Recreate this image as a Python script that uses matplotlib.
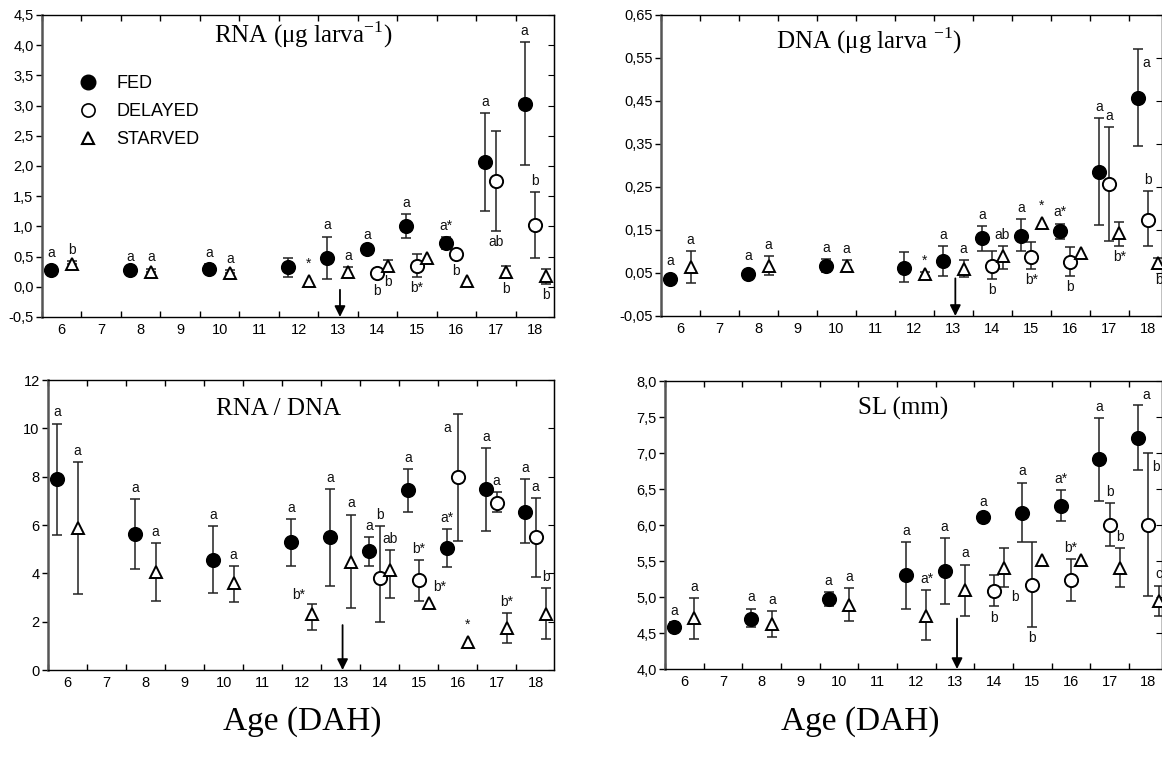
import numpy as np
import matplotlib.pyplot as plt
from matplotlib.lines import Line2D
from matplotlib.ticker import FixedLocator, FuncFormatter, NullFormatter

plt.rcParams['font.family'] = ['Liberation Sans', 'DejaVu Sans']
plt.rcParams['mathtext.fontset'] = 'custom'
plt.rcParams['mathtext.rm'] = 'Liberation Serif'

# age in days after hatching
days = list(range(6, 19))
fed_days = [6, 8, 10, 12, 13, 14, 15, 16, 17, 18]
del_days = [14, 15, 16, 17, 18]
sta_days = [6, 8, 10, 12, 13, 14, 15, 16, 17, 18]
arrow_day = 13

# RNA (ug larva-1): mean, lower / upper end of error bar, letters
rna_fed = [0.27, 0.27, 0.30, 0.33, 0.48, 0.63, 1.00, 0.73, 2.06, 3.02]
rna_fed_lo = [0.27, 0.24, 0.24, 0.17, 0.13, 0.59, 0.80, 0.62, 1.25, 2.01]
rna_fed_hi = [0.27, 0.30, 0.37, 0.48, 0.83, 0.67, 1.20, 0.82, 2.87, 4.05]
rna_fed_txt = ['a', 'a', 'a', '', 'a', 'a', 'a', 'a*', 'a', 'a']
rna_del = [0.23, 0.35, 0.55, 1.75, 1.03]
rna_del_lo = [0.23, 0.17, 0.55, 0.93, 0.48]
rna_del_hi = [0.23, 0.55, 0.55, 2.58, 1.57]
rna_del_txt = ['b', 'b*', 'b', 'ab', 'b']
rna_sta = [0.37, 0.25, 0.23, 0.10, 0.25, 0.35, 0.48, 0.10, 0.24, 0.18]
rna_sta_lo = [0.37, 0.25, 0.23, 0.10, 0.20, 0.27, 0.48, 0.10, 0.15, 0.05]
rna_sta_hi = [0.42, 0.30, 0.28, 0.10, 0.33, 0.45, 0.48, 0.10, 0.35, 0.30]
rna_sta_txt = ['b', 'a', 'a', '*', 'a', 'b', '', '', 'b', 'b']

# DNA (ug larva-1)
dna_fed = [0.036, 0.048, 0.067, 0.062, 0.078, 0.132, 0.137, 0.148, 0.285, 0.457]
dna_fed_lo = [0.036, 0.048, 0.053, 0.029, 0.043, 0.100, 0.100, 0.128, 0.161, 0.345]
dna_fed_hi = [0.036, 0.048, 0.083, 0.099, 0.113, 0.160, 0.175, 0.165, 0.410, 0.570]
dna_fed_txt = ['a', 'a', 'a', '', 'a', 'a', 'a', 'a*', 'a', 'a']
dna_del = [0.067, 0.088, 0.075, 0.257, 0.173]
dna_del_lo = [0.036, 0.060, 0.043, 0.125, 0.113]
dna_del_hi = [0.100, 0.122, 0.110, 0.390, 0.240]
dna_del_txt = ['b', 'b*', 'b', 'a', 'b']
dna_sta = [0.064, 0.067, 0.067, 0.048, 0.059, 0.090, 0.167, 0.096, 0.143, 0.073]
dna_sta_lo = [0.027, 0.045, 0.058, 0.043, 0.041, 0.060, 0.167, 0.096, 0.113, 0.060]
dna_sta_hi = [0.100, 0.090, 0.080, 0.053, 0.080, 0.113, 0.167, 0.096, 0.169, 0.085]
dna_sta_txt = ['a', 'a', 'a', '*', 'a', 'ab', '*', '', 'b*', 'b']

# RNA / DNA
rd_fed = [7.90, 5.62, 4.55, 5.29, 5.49, 4.93, 7.44, 5.04, 7.48, 6.53]
rd_fed_lo = [5.60, 4.17, 3.17, 4.30, 3.47, 4.30, 6.53, 4.26, 5.74, 5.25]
rd_fed_hi = [10.2, 7.07, 5.95, 6.24, 7.48, 5.50, 8.30, 5.83, 9.17, 7.90]
rd_fed_txt = ['a', 'a', 'a', 'a', 'a', 'a', 'a', 'a*', 'a', 'a']
rd_del = [3.79, 3.72, 7.97, 6.90, 5.49]
rd_del_lo = [1.98, 2.85, 5.33, 6.53, 3.85]
rd_del_hi = [5.95, 4.55, 10.6, 7.35, 7.10]
rd_del_txt = ['b', 'b*', 'a', 'a', 'a']
rd_sta = [5.87, 4.05, 3.60, 2.31, 4.47, 4.14, 2.77, 1.16, 1.73, 2.30]
rd_sta_lo = [3.15, 2.85, 2.80, 1.65, 2.55, 2.98, 2.77, 1.16, 1.12, 1.28]
rd_sta_hi = [8.60, 5.25, 4.30, 2.72, 6.43, 4.96, 2.77, 1.16, 2.35, 3.38]
rd_sta_txt = ['a', 'a', 'a', 'b*', 'a', 'ab', 'b*', '*', 'b*', 'b']

# SL (mm)
sl_fed = [4.59, 4.70, 4.97, 5.30, 5.36, 6.11, 6.17, 6.27, 6.91, 7.21]
sl_fed_lo = [4.54, 4.58, 4.88, 4.84, 4.90, 6.06, 5.76, 6.06, 6.33, 6.76]
sl_fed_hi = [4.65, 4.84, 5.07, 5.76, 5.82, 6.16, 6.59, 6.48, 7.49, 7.67]
sl_fed_txt = ['a', 'a', 'a', 'a', 'a', 'a', 'a', 'a*', 'a', 'a']
sl_del = [5.09, 5.17, 5.24, 6.00, 6.00]
sl_del_lo = [4.87, 4.58, 4.95, 5.71, 5.01]
sl_del_hi = [5.30, 5.76, 5.53, 6.31, 7.00]
sl_del_txt = ['b', 'b', 'b*', 'b', 'b']
sl_sta = [4.71, 4.63, 4.89, 4.74, 5.10, 5.41, 5.51, 5.51, 5.41, 4.95]
sl_sta_lo = [4.42, 4.45, 4.67, 4.40, 4.74, 5.14, 5.51, 5.51, 5.14, 4.74]
sl_sta_hi = [4.99, 4.81, 5.12, 5.10, 5.45, 5.68, 5.51, 5.51, 5.68, 5.16]
sl_sta_txt = ['a', 'a', 'a', 'a*', 'a', 'b', '', '', 'b', 'c']

# where each letter goes relative to its error bar
rna_pos = (['above'] * 10,
           ['below', 'below', 'below', 'below', 'above'],
           ['above'] * 5 + ['below', 'above', 'above', 'below', 'below'])
dna_pos = (['above'] * 9 + ['right-low'],
           ['below', 'below', 'below', 'above', 'above'],
           ['above'] * 8 + ['below', 'below'])
rd_pos = (['above'] * 10,
          ['above', 'above', 'left-low', 'above', 'above'],
          ['above', 'above', 'above', 'left', 'above', 'above', 'right', 'above', 'above', 'above'])
sl_pos = (['above'] * 9 + ['right'],
          ['below', 'below', 'above', 'above', 'right-low'],
          ['above'] * 5 + ['below-right', 'above', 'above', 'above', 'above'])

styles = [dict(dx=-0.27, marker='o', ms=9.5, mfc='black'),
          dict(dx=0.0, marker='o', ms=9.5, mfc='white'),
          dict(dx=0.26, marker='^', ms=8.5, mfc='white')]

place = {
    'above': ('hi', 0, 3, 'center', 'bottom'),
    'below': ('lo', 0, -3, 'center', 'top'),
    'right': ('hi', 3, 2, 'left', 'bottom'),
    'right-low': ('hi', 3, -5, 'left', 'top'),
    'left': ('hi', -5, 2, 'right', 'bottom'),
    'left-low': ('hi', -5, -5, 'right', 'top'),
    'below-right': ('lo', 5, -2, 'left', 'top'),
}


def draw_panel(ax, series, positions, ylim, yticks, ndec, title, title_xy,
               arrow_frac, xmax):
    for (dd, m, lo, hi, txt), pos, st in zip(series, positions, styles):
        x = np.array(dd) + st['dx']
        m, lo, hi = np.array(m), np.array(lo), np.array(hi)
        has = hi > lo
        ax.errorbar(x[has], m[has], yerr=[m[has] - lo[has], hi[has] - m[has]],
                    fmt='none', ecolor='#222222', elinewidth=1.1,
                    capsize=3.6, capthick=1.1, zorder=2)
        ax.plot(x, m, st['marker'], ms=st['ms'], mfc=st['mfc'], mec='black',
                mew=1.4, zorder=3, clip_on=False)
        r = st['ms'] / 2
        for xi, mi, l, h, t, p in zip(x, m, lo, hi, txt, pos):
            if not t:
                continue
            anc, dx, dy, ha, va = place[p]
            yv = h if anc == 'hi' else l
            if h - l == 0 or (anc == 'hi' and h == mi) or (anc == 'lo' and l == mi):
                dy = dy + (r if dy > 0 else -r)
            ax.annotate(t, xy=(xi, yv), xytext=(dx, dy), textcoords='offset points',
                        ha=ha, va=va, fontsize=10, color='#111111')

    ax.set_xlim(5.5, xmax)
    ax.set_ylim(*ylim)
    ax.xaxis.set_major_locator(FixedLocator(np.arange(5.5, 18.6, 1.0)))
    ax.xaxis.set_major_formatter(NullFormatter())
    ax.xaxis.set_minor_locator(FixedLocator(days))
    ax.xaxis.set_minor_formatter(FuncFormatter(lambda v, p: '%d' % v))
    ax.tick_params(axis='x', which='major', direction='in', top=True,
                   bottom=True, length=4, width=1)
    ax.tick_params(axis='x', which='minor', length=0, pad=4, labelsize=10.5)
    ax.set_yticks(yticks)
    ax.yaxis.set_major_formatter(
        FuncFormatter(lambda v, p: ('%.*f' % (ndec, v)).replace('.', ',')))
    ax.tick_params(axis='y', direction='out', length=4, width=1,
                   labelsize=10.5, pad=2)
    sec = ax.secondary_yaxis('right')
    sec.set_yticks(yticks)
    sec.tick_params(direction='in', length=4, labelright=False)
    for s in ['top', 'right', 'bottom']:
        ax.spines[s].set_linewidth(1.0)
    ax.spines['left'].set_linewidth(1.8)
    ax.spines['left'].set_color('#555555')
    ax.text(title_xy[0], title_xy[1], title, transform=ax.transAxes,
            ha='center', va='center', fontsize=18, family='Liberation Serif')
    ax.annotate('', xy=(arrow_day + 0.05, 0.0), xytext=(arrow_day + 0.05, arrow_frac),
                xycoords=ax.get_xaxis_transform(),
                arrowprops=dict(arrowstyle='-|>', color='black', lw=1.3,
                                mutation_scale=16, shrinkA=0, shrinkB=0))


fig = plt.figure(figsize=(11.62, 7.64), dpi=100)
ax_rna = fig.add_axes([0.0361, 0.5851, 0.4406, 0.3953])
ax_dna = fig.add_axes([0.5688, 0.5864, 0.4312, 0.3940])
ax_rd = fig.add_axes([0.0413, 0.1230, 0.4355, 0.3796])
ax_sl = fig.add_axes([0.5723, 0.1243, 0.4277, 0.3770])

draw_panel(ax_rna,
           [(fed_days, rna_fed, rna_fed_lo, rna_fed_hi, rna_fed_txt),
            (del_days, rna_del, rna_del_lo, rna_del_hi, rna_del_txt),
            (sta_days, rna_sta, rna_sta_lo, rna_sta_hi, rna_sta_txt)],
           rna_pos, (-0.5, 4.5), np.arange(-0.5, 4.51, 0.5), 1,
           'RNA (\u03bcg larva$^{-1}$)', (0.51, 0.935), 0.09, 18.47)
draw_panel(ax_dna,
           [(fed_days, dna_fed, dna_fed_lo, dna_fed_hi, dna_fed_txt),
            (del_days, dna_del, dna_del_lo, dna_del_hi, dna_del_txt),
            (sta_days, dna_sta, dna_sta_lo, dna_sta_hi, dna_sta_txt)],
           dna_pos, (-0.05, 0.65), np.arange(-0.05, 0.651, 0.1), 2,
           'DNA (\u03bcg larva $^{-1}$)', (0.415, 0.915), 0.125, 18.35)
draw_panel(ax_rd,
           [(fed_days, rd_fed, rd_fed_lo, rd_fed_hi, rd_fed_txt),
            (del_days, rd_del, rd_del_lo, rd_del_hi, rd_del_txt),
            (sta_days, rd_sta, rd_sta_lo, rd_sta_hi, rd_sta_txt)],
           rd_pos, (0, 12), np.arange(0, 12.1, 2), 0,
           'RNA / DNA', (0.455, 0.9), 0.155, 18.47)
draw_panel(ax_sl,
           [(fed_days, sl_fed, sl_fed_lo, sl_fed_hi, sl_fed_txt),
            (del_days, sl_del, sl_del_lo, sl_del_hi, sl_del_txt),
            (sta_days, sl_sta, sl_sta_lo, sl_sta_hi, sl_sta_txt)],
           sl_pos, (4.0, 8.0), np.arange(4.0, 8.01, 0.5), 1,
           'SL (mm)', (0.48, 0.905), 0.175, 18.35)

handles = [Line2D([], [], ls='none', marker='o', ms=10.5, mfc='black', mec='black'),
           Line2D([], [], ls='none', marker='o', ms=9.5, mfc='white', mec='black', mew=1.2),
           Line2D([], [], ls='none', marker='^', ms=8.5, mfc='white', mec='black', mew=1.5)]
ax_rna.legend(handles, ['FED', 'DELAYED', 'STARVED'], loc='upper left',
              bbox_to_anchor=(0.068, 0.8), frameon=False, fontsize=13,
              borderpad=0, borderaxespad=0, handlelength=1.2,
              handletextpad=1.0, labelspacing=0.6)

fig.text(0.26, 0.055, 'Age (DAH)', ha='center', va='center', fontsize=24,
         family='Liberation Serif')
fig.text(0.74, 0.055, 'Age (DAH)', ha='center', va='center', fontsize=24,
         family='Liberation Serif')

fig.savefig('out.png', dpi=100)
